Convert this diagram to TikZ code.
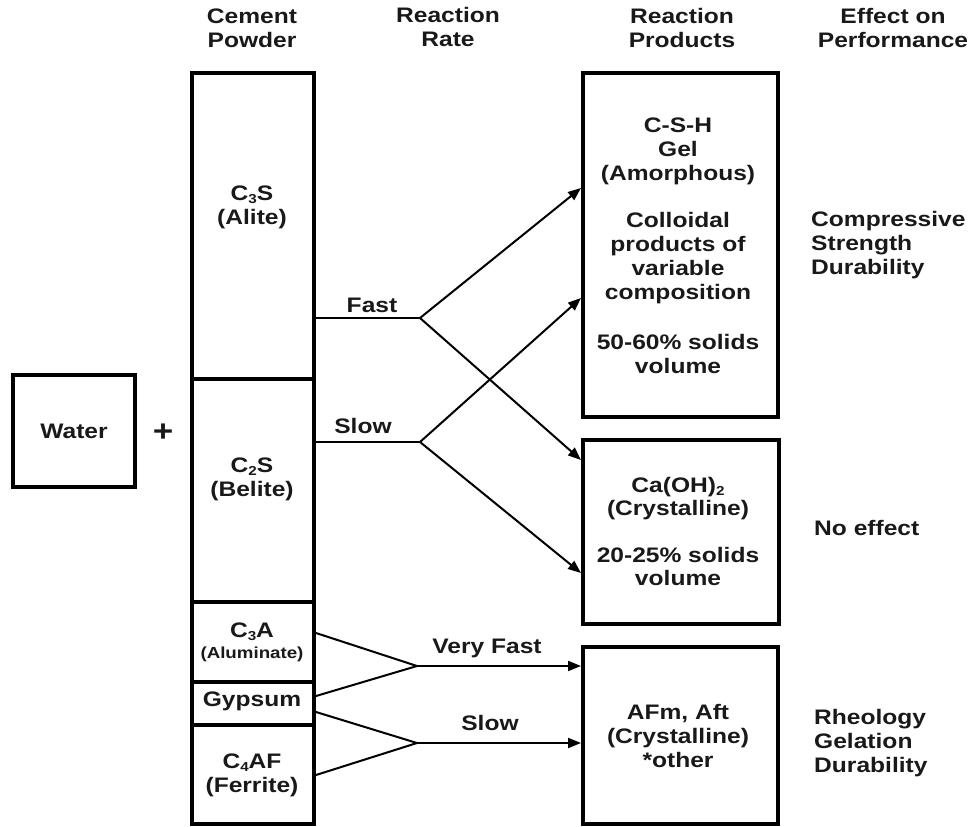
\documentclass[tikz,border=0pt]{standalone}
\usepackage{fontspec}
\newfontfamily\lab{Liberation Sans Bold}[FakeStretch=1.17]
\newcommand{\chemsub}[1]{\raisebox{-0.3ex}{\fontsize{13}{13}\selectfont #1}}
\usetikzlibrary{arrows.meta}
\begin{document}
\begin{tikzpicture}[x=1pt,y=-1pt,
  txt/.style={inner sep=0pt, align=center, text=black!90,
    font={\lab\fontsize{21}{24}\selectfont}},
  small/.style={inner sep=0pt, align=center, text=black!90,
    font={\lab\fontsize{16}{19}\selectfont}},
  lefttxt/.style={txt, align=left, anchor=west},
  box/.style={draw, line width=4pt, rectangle, inner sep=0pt},
  conn/.style={line width=2pt},
  arr/.style={conn, -{Triangle[length=13pt,width=10pt]}}]
\useasboundingbox (0,0) rectangle (972,827);

% column headings
\node[txt] (hcem) at (252,28) {Cement\\Powder};
\node[txt] (hrate) at (448,27) {Reaction\\Rate};
\node[txt] (hprod) at (682,28) {Reaction\\Products};
\node[txt] (heff) at (893,28) {Effect on\\Performance};

% water
\node[box, minimum width=122pt, minimum height=112pt] (water) at (74,431) {};
\node[txt] (wtxt) at (water.center) {Water};
\node[txt, font={\lab\fontsize{30}{30}\selectfont}] (plus) at (163,433) {+};

% cement powder column
\node[box, minimum width=122pt, minimum height=306pt, anchor=north west] (c3s) at (190,71) {};
\node[box, minimum width=122pt, minimum height=223pt, anchor=north west] (c2s) at (190,377) {};
\node[box, minimum width=122pt, minimum height=80pt, anchor=north west] (c3a) at (190,600) {};
\node[box, minimum width=122pt, minimum height=43pt, anchor=north west] (gyp) at (190,680) {};
\node[box, minimum width=122pt, minimum height=99pt, anchor=north west] (c4af) at (190,723) {};

\node[txt] (t3s) at (252,207) {C\chemsub{3}S\\(Alite)};
\node[txt] (t2s) at (252,479) {C\chemsub{2}S\\(Belite)};
\node[txt] (t3a) at (252,632) {C\chemsub{3}A};
\node[small] (t3aa) at (252,654) {(Aluminate)};
\node[txt] (tgyp) at (252,701) {Gypsum};
\node[txt] (t4af) at (252,775) {C\chemsub{4}AF\\(Ferrite)};

% reaction products
\node[box, minimum width=195pt, minimum height=344pt, anchor=north west] (csh) at (581,71) {};
\node[box, minimum width=196pt, minimum height=184pt, anchor=north west] (ch) at (581,438) {};
\node[box, minimum width=195pt, minimum height=177pt, anchor=north west] (afm) at (581,645) {};

\node[txt] (tcsh) at (678,246) {C-S-H\\Gel\\(Amorphous)\\[23pt]Colloidal\\products of\\variable\\composition\\[26pt]50-60\% solids\\volume};
\node[txt, font={\lab\fontsize{21}{23}\selectfont}] (tch) at (678,531) {Ca(OH)\chemsub{2}\\(Crystalline)\\[24pt]20-25\% solids\\volume};
\node[txt] (tafm) at (678,736) {AFm, Aft\\(Crystalline)\\*other};

% effect on performance
\node[lefttxt] (e1) at (811,245) {Compressive\\Strength\\Durability};
\node[lefttxt] (e2) at (814,528) {No effect};
\node[lefttxt] (e3) at (814,743) {Rheology\\Gelation\\Durability};

% reaction paths
\coordinate (fA) at (420,318);
\coordinate (sA) at (420,442);
\coordinate (vA) at (417,666);
\coordinate (wA) at (417,743);

\draw[conn] (fA -| c3s.east) -- (fA);
\draw[arr] (fA) -- (csh.west |- 0,188);
\draw[arr] (fA) -- (ch.west |- 0,460);
\draw[conn] (sA -| c2s.east) -- (sA);
\draw[arr] (sA) -- (csh.west |- 0,298);
\draw[arr] (sA) -- (ch.west |- 0,573);

\draw[conn] (c3a.east |- 0,633) -- (vA) -- (gyp.east |- 0,696);
\draw[arr] (vA) -- (afm.west |- vA);
\draw[conn] (gyp.east |- 0,712) -- (wA) -- (c4af.east |- 0,775);
\draw[arr] (wA) -- (afm.west |- wA);

% rate labels
\node[txt] (lfast) at (372,305) {Fast};
\node[txt] (lslow) at (363,426) {Slow};
\node[txt] (lvfast) at (487,648) {Very Fast};
\node[txt] (lslow2) at (490,723) {Slow};
\end{tikzpicture}
\end{document}
